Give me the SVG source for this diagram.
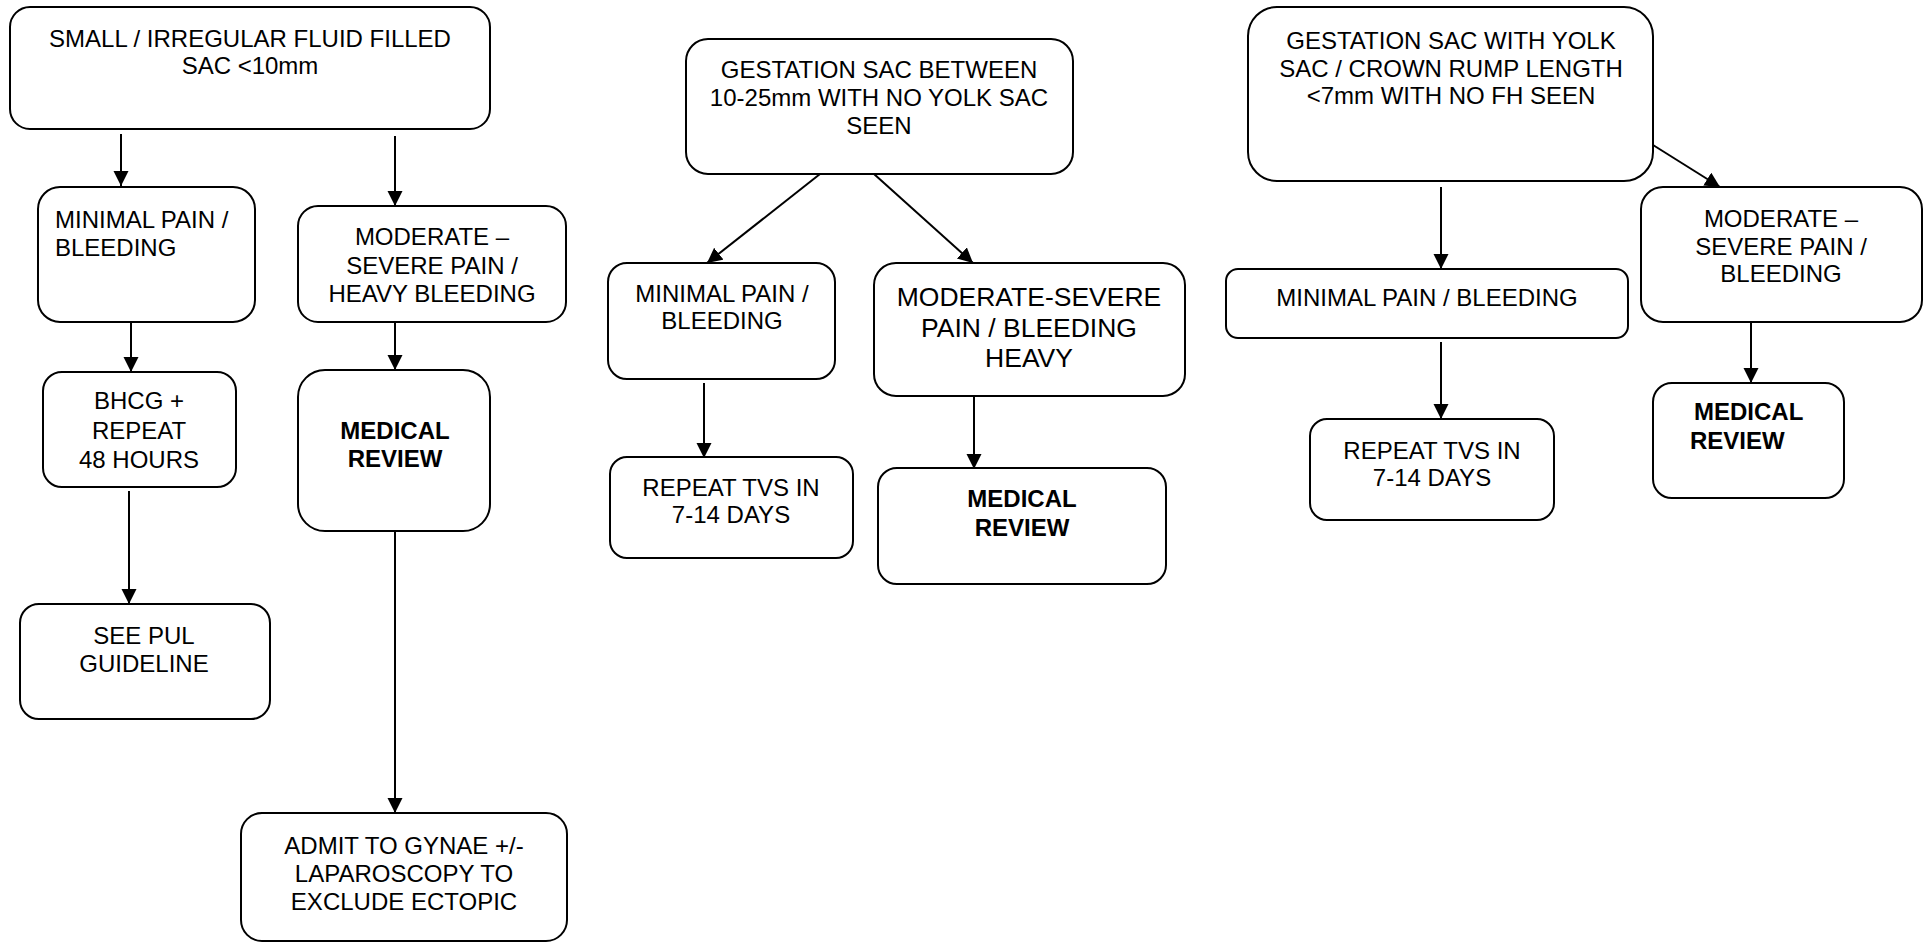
<svg xmlns="http://www.w3.org/2000/svg" width="1928" height="944" viewBox="0 0 1928 944">
<defs>
<marker id="ah" markerUnits="userSpaceOnUse" markerWidth="16" markerHeight="16" refX="15" refY="7.5" orient="auto">
<path d="M0,0 L15,7.5 L0,15 z" fill="#000"/>
</marker>
<style>
.box{fill:#fff;stroke:#000;stroke-width:2}
.t{font-family:"Liberation Sans",Arial,sans-serif;font-size:24px;fill:#000;text-anchor:middle}
.l{text-anchor:start}
.b{font-weight:bold}
.big{font-size:26.5px}
.c line{stroke:#000;stroke-width:2;marker-end:url(#ah)}
</style>
</defs>
<rect width="1928" height="944" fill="#fff"/>
<g id="connectors" class="c">
<line x1="121" y1="134" x2="121" y2="186"/>
<line x1="395" y1="136" x2="395" y2="206"/>
<line x1="131" y1="316" x2="131" y2="372"/>
<line x1="395" y1="322" x2="395" y2="370"/>
<line x1="129" y1="491" x2="129" y2="604"/>
<line x1="395" y1="529" x2="395" y2="813"/>
<line x1="820" y1="174" x2="707" y2="263"/>
<line x1="874" y1="174" x2="973" y2="263"/>
<line x1="704" y1="383" x2="704" y2="458"/>
<line x1="974" y1="396" x2="974" y2="469"/>
<line x1="1441" y1="187" x2="1441" y2="269"/>
<line x1="1653" y1="145" x2="1720" y2="187"/>
<line x1="1441" y1="342" x2="1441" y2="419"/>
<line x1="1751" y1="323" x2="1751" y2="383"/>
</g>
<g id="n-small-sac">
<rect class="box" x="10" y="7" width="480" height="122" rx="20"/>
<text class="t" x="250" y="47">SMALL / IRREGULAR FLUID FILLED</text>
<text class="t" x="250" y="74">SAC &lt;10mm</text>
</g>
<g id="n-min1">
<rect class="box" x="38" y="187" width="217" height="135" rx="22"/>
<text class="t l" x="55" y="228">MINIMAL PAIN /</text>
<text class="t l" x="55" y="256">BLEEDING</text>
</g>
<g id="n-mod1">
<rect class="box" x="298" y="206" width="268" height="116" rx="20"/>
<text class="t" x="432" y="245">MODERATE –</text>
<text class="t" x="432" y="274">SEVERE PAIN /</text>
<text class="t" x="432" y="302">HEAVY BLEEDING</text>
</g>
<g id="n-bhcg">
<rect class="box" x="43" y="372" width="193" height="115" rx="19"/>
<text class="t" x="139" y="409">BHCG +</text>
<text class="t" x="139" y="439">REPEAT</text>
<text class="t" x="139" y="468">48 HOURS</text>
</g>
<g id="n-review1">
<rect class="box" x="298" y="370" width="192" height="161" rx="27"/>
<text class="t b" x="395" y="439">MEDICAL</text>
<text class="t b" x="395" y="467">REVIEW</text>
</g>
<g id="n-pul">
<rect class="box" x="20" y="604" width="250" height="115" rx="19"/>
<text class="t" x="144" y="644">SEE PUL</text>
<text class="t" x="144" y="672">GUIDELINE</text>
</g>
<g id="n-admit">
<rect class="box" x="241" y="813" width="326" height="128" rx="21"/>
<text class="t" x="404" y="854">ADMIT TO GYNAE +/-</text>
<text class="t" x="404" y="882">LAPAROSCOPY TO</text>
<text class="t" x="404" y="910">EXCLUDE ECTOPIC</text>
</g>
<g id="n-gest-between">
<rect class="box" x="686" y="39" width="387" height="135" rx="22"/>
<text class="t" x="879" y="78">GESTATION SAC BETWEEN</text>
<text class="t" x="879" y="106">10-25mm WITH NO YOLK SAC</text>
<text class="t" x="879" y="134">SEEN</text>
</g>
<g id="n-min2">
<rect class="box" x="608" y="263" width="227" height="116" rx="19"/>
<text class="t" x="722" y="302">MINIMAL PAIN /</text>
<text class="t" x="722" y="329">BLEEDING</text>
</g>
<g id="n-mod2">
<rect class="box" x="874" y="263" width="311" height="133" rx="22"/>
<text class="t big" x="1029" y="306">MODERATE-SEVERE</text>
<text class="t big" x="1029" y="337">PAIN / BLEEDING</text>
<text class="t big" x="1029" y="367">HEAVY</text>
</g>
<g id="n-tvs2">
<rect class="box" x="610" y="457" width="243" height="101" rx="17"/>
<text class="t" x="731" y="496">REPEAT TVS IN</text>
<text class="t" x="731" y="523">7-14 DAYS</text>
</g>
<g id="n-review2">
<rect class="box" x="878" y="468" width="288" height="116" rx="19"/>
<text class="t b" x="1022" y="507">MEDICAL</text>
<text class="t b" x="1022" y="536">REVIEW</text>
</g>
<g id="n-gest-yolk">
<rect class="box" x="1248" y="7" width="405" height="174" rx="29"/>
<text class="t" x="1451" y="49">GESTATION SAC WITH YOLK</text>
<text class="t" x="1451" y="77">SAC / CROWN RUMP LENGTH</text>
<text class="t" x="1451" y="104">&lt;7mm WITH NO FH SEEN</text>
</g>
<g id="n-min3">
<rect class="box" x="1226" y="269" width="402" height="69" rx="12"/>
<text class="t" x="1427" y="306">MINIMAL PAIN / BLEEDING</text>
</g>
<g id="n-mod3">
<rect class="box" x="1641" y="187" width="281" height="135" rx="22"/>
<text class="t" x="1781" y="227">MODERATE –</text>
<text class="t" x="1781" y="255">SEVERE PAIN /</text>
<text class="t" x="1781" y="282">BLEEDING</text>
</g>
<g id="n-tvs3">
<rect class="box" x="1310" y="419" width="244" height="101" rx="17"/>
<text class="t" x="1432" y="459">REPEAT TVS IN</text>
<text class="t" x="1432" y="486">7-14 DAYS</text>
</g>
<g id="n-review3">
<rect class="box" x="1653" y="383" width="191" height="115" rx="19"/>
<text class="t b l" x="1694" y="420">MEDICAL</text>
<text class="t b l" x="1690" y="449">REVIEW</text>
</g>
</svg>
